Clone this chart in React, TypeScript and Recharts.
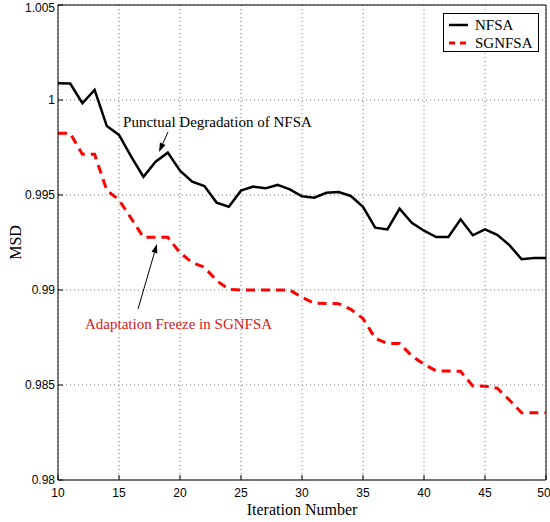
import React from 'react';
import {
  LineChart,
  Line,
  XAxis,
  YAxis,
  CartesianGrid,
  Legend,
  ReferenceLine,
  ReferenceDot,
} from 'recharts';

const iterations = [
  10, 11, 12, 13, 14, 15, 16, 17, 18, 19, 20, 21, 22, 23, 24, 25, 26, 27, 28, 29, 30,
  31, 32, 33, 34, 35, 36, 37, 38, 39, 40, 41, 42, 43, 44, 45, 46, 47, 48, 49, 50,
];

const nfsa = [
  1.00088, 1.00087, 0.99983, 1.00053, 0.99863, 0.99816, 0.99702, 0.99596, 0.99675, 0.99723,
  0.99628, 0.9957, 0.99547, 0.9946, 0.99438, 0.99523, 0.99544, 0.99535, 0.99553, 0.9953,
  0.99493, 0.99486, 0.99512, 0.99516, 0.99495, 0.99438, 0.99328, 0.99319, 0.99428, 0.99354,
  0.99312, 0.99279, 0.99279, 0.99372, 0.99288, 0.99319, 0.9929, 0.99236, 0.99162, 0.99168,
  0.99168,
];

const sgnfsa = [
  0.99825, 0.99825, 0.99714, 0.99714, 0.99525, 0.99474, 0.99377, 0.99277, 0.99277, 0.99277,
  0.99196, 0.99144, 0.9912, 0.99049, 0.99004, 0.99, 0.99, 0.99, 0.99, 0.99,
  0.98962, 0.9893, 0.98929, 0.98928, 0.98898, 0.9885, 0.98746, 0.98719, 0.98719, 0.98653,
  0.98609, 0.98574, 0.98574, 0.98572, 0.98495, 0.98494, 0.98483, 0.98421, 0.98354, 0.98354,
  0.98354,
];

const xTicks = [10, 15, 20, 25, 30, 35, 40, 45, 50];
const yTicks = [0.98, 0.985, 0.99, 0.995, 1, 1.005];

const data = iterations.map((it, i) => ({ iter: it, NFSA: nfsa[i], SGNFSA: sgnfsa[i] }));

const tickFont = { fontFamily: 'Liberation Sans, Arial, sans-serif', fontSize: 12, fill: '#000' };
const serif = 'Liberation Serif, Times New Roman, serif';

// line with a filled head at (x2, y2)
const Arrow = (props: any) => {
  const { x1, y1, x2, y2 } = props;
  const ang = Math.atan2(y2 - y1, x2 - x1);
  const len = 9;
  const w = 3;
  const bx = x2 - len * Math.cos(ang);
  const by = y2 - len * Math.sin(ang);
  const px = -Math.sin(ang) * w;
  const py = Math.cos(ang) * w;
  return (
    <g>
      <line x1={x1} y1={y1} x2={bx} y2={by} stroke="#000" strokeWidth={1} />
      <polygon points={`${x2},${y2} ${bx + px},${by + py} ${bx - px},${by - py}`} fill="#000" />
    </g>
  );
};

const LegendBox = () => (
  <div
    style={{
      width: 96,
      height: 39,
      border: '1px solid #000',
      background: '#fff',
      boxSizing: 'border-box',
    }}
  >
    <svg width={94} height={37} style={{ display: 'block' }}>
      <line x1={5} y1={11} x2={24} y2={11} stroke="#000" strokeWidth={2.5} />
      <text x={31} y={16} fontFamily={serif} fontSize={15}>NFSA</text>
      <line x1={5} y1={29} x2={24} y2={29} stroke="#ff0000" strokeWidth={3} strokeDasharray="6 5" />
      <text x={31} y={34} fontFamily={serif} fontSize={15}>SGNFSA</text>
    </svg>
  </div>
);

export default function App() {
  return (
    <div style={{ position: 'absolute', left: 0, top: 0, width: 550, height: 522, background: '#fff' }}>
      <LineChart width={550} height={522} data={data} margin={{ top: 5, right: 4, left: 8, bottom: 12 }}>
        <CartesianGrid stroke="#777" strokeDasharray="1 3" />
        <XAxis
          dataKey="iter"
          type="number"
          domain={[10, 50]}
          ticks={xTicks}
          height={30}
          tick={tickFont}
          tickSize={-5}
          tickMargin={13}
          stroke="#000"
          label={{ value: 'Iteration Number', position: 'insideBottom', offset: -5, style: { fontFamily: serif, fontSize: 16, fill: '#000' } }}
        />
        <XAxis xAxisId="top" orientation="top" type="number" domain={[10, 50]} ticks={xTicks} height={0} tick={false} tickSize={-5} stroke="#000" dataKey="iter" />
        <YAxis
          type="number"
          domain={[0.98, 1.005]}
          ticks={yTicks}
          width={50}
          tick={tickFont}
          tickSize={-5}
          tickMargin={8}
          stroke="#000"
          label={{ value: 'MSD', angle: -90, position: 'insideLeft', offset: 0, dx: 7, style: { fontFamily: serif, fontSize: 16, fill: '#000', textAnchor: 'middle' } }}
        />
        <YAxis yAxisId="right" orientation="right" type="number" domain={[0.98, 1.005]} ticks={yTicks} width={0} tick={false} tickSize={-5} stroke="#000" />
        <ReferenceLine y={1.005} stroke="#000" strokeWidth={1} />
        <ReferenceLine x={50} stroke="#000" strokeWidth={1} />
        <Line type="linear" dataKey="NFSA" stroke="#000" strokeWidth={2.5} dot={false} isAnimationActive={false} />
        <Line type="linear" dataKey="SGNFSA" stroke="#ff0000" strokeWidth={3} strokeDasharray="9 6" dot={false} isAnimationActive={false} />
        <ReferenceLine segment={[{ x: 19.02, y: 0.99832 }, { x: 18.28, y: 0.99726 }]} shape={Arrow} />
        <ReferenceLine segment={[{ x: 16.56, y: 0.989 }, { x: 18.11, y: 0.99242 }]} shape={Arrow} />
        <ReferenceDot
          x={23.07}
          y={0.99884}
          r={0}
          stroke="none"
          fill="none"
          label={{ value: 'Punctual Degradation of NFSA', position: 'center', style: { fontFamily: serif, fontSize: 15, fill: '#000' } }}
        />
        <ReferenceDot
          x={19.88}
          y={0.98821}
          r={0}
          stroke="none"
          fill="none"
          label={{ value: 'Adaptation Freeze in SGNFSA', position: 'center', style: { fontFamily: serif, fontSize: 15, fill: '#d42020' } }}
        />
        <Legend
          layout="vertical"
          align="center"
          verticalAlign="middle"
          wrapperStyle={{ position: 'absolute', top: 13, left: 443, width: 96, height: 39 }}
          content={() => <LegendBox />}
        />
      </LineChart>
    </div>
  );
}
